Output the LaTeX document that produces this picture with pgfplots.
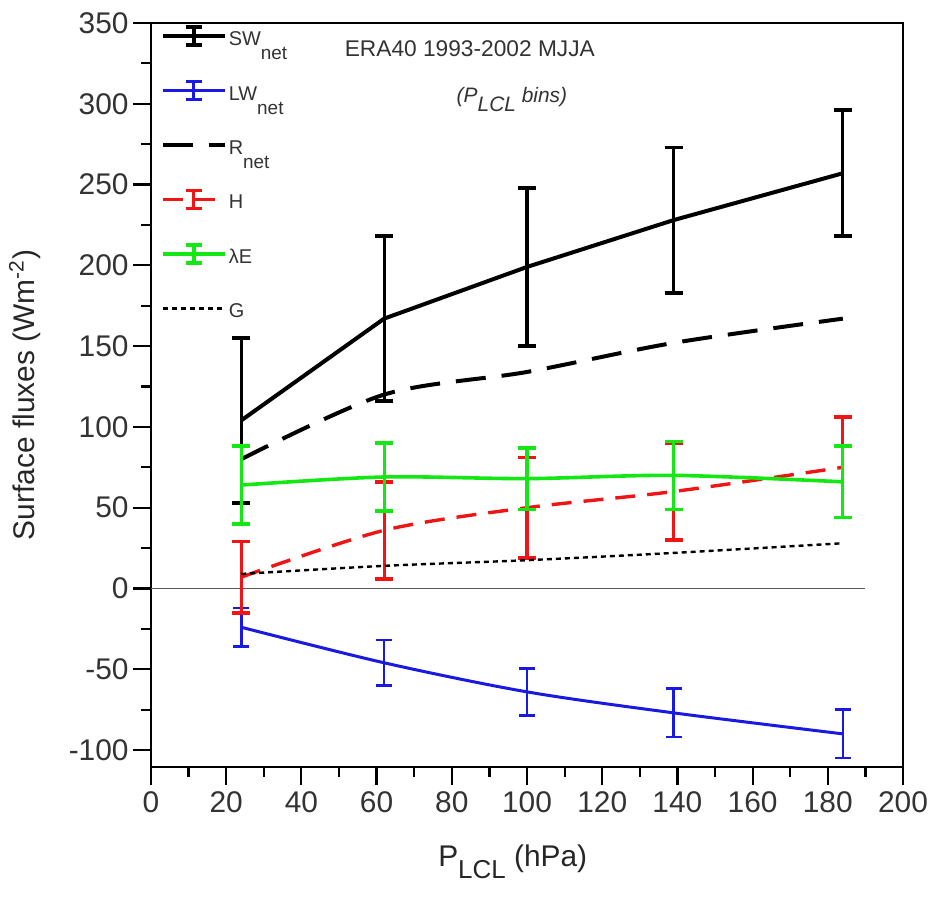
\documentclass[border=0pt]{standalone}
\usepackage{pgfplots}
\pgfplotsset{compat=1.18}
\usepackage{fontspec}
\setmainfont{Liberation Sans}
\definecolor{cblue}{RGB}{25,25,225}
\definecolor{cred}{RGB}{240,20,20}
\definecolor{cgreen}{RGB}{20,232,20}
\newcommand{\lsub}[1]{\raisebox{-7bp}{\fontsize{9.5}{10}\selectfont #1}}
\newcommand{\lent}[1]{\raisebox{-3.7bp}{#1}}
\pgfplotsset{
  errleg/.style={legend image code/.code={
    \draw[##1] (0bp,0bp) -- (31bp,0bp);
    \draw[##1,solid] (15.5bp,-4.5bp) -- (15.5bp,4.5bp) (11.5bp,-4.5bp) -- (19.5bp,-4.5bp) (11.5bp,4.5bp) -- (19.5bp,4.5bp);
  }},
  lineleg/.style={legend image code/.code={
    \draw[##1] (0bp,0bp) -- (31bp,0bp);}},
}
\begin{document}
\begin{tikzpicture}
\useasboundingbox (-75.5bp,-68.5bp) rectangle (389bp,383.5bp);
\begin{axis}[name=ax, at={(0,0)}, anchor=south west,
  scale only axis, width=376bp, height=372bp,
  xmin=0, xmax=200, ymin=-110.5, ymax=350,
  xtick={0,20,...,200}, minor x tick num=1,
  ytick={-100,-50,...,350}, minor y tick num=1,
  yticklabels={-100,-50,0,50,100,150,200,250,300,350},
  xticklabels={0,20,40,60,80,100,120,140,160,180,200},
  tick align=outside, xtick pos=left, ytick pos=left,
  major tick length=9bp, minor tick length=5bp,
  every tick/.style={black, line width=1.1bp},
  axis line style={line width=1.1bp},
  ticklabel style={font=\fontsize{15}{18}\selectfont, text=black!80},
  yticklabel style={inner sep=2bp},
  xticklabel style={inner sep=3bp},
  every axis y label/.style={at={(axis description cs:-0.168,0.5)},rotate=90,anchor=center},
  every axis x label/.style={at={(axis description cs:0.481,-0.128)},anchor=center},
  label style={font=\fontsize{15}{18}\selectfont, text=black!85},
  ylabel={Surface fluxes (Wm\textsuperscript{-2})},
  xlabel={P\raisebox{-6bp}{\fontsize{13}{14}\selectfont LCL} (hPa)},
  legend style={draw=none, fill=none, at={(axis description cs:0.0125,1)}, anchor=north west,
    font=\fontsize{10}{12}\selectfont, text=black!80, row sep=14.2bp, inner sep=0pt, column sep=1bp,
    nodes={inner sep=0pt, text height=7.5bp, text depth=5.5bp}},
  legend cell align=left,
  error bars/y dir=both, error bars/y explicit,
]
\addplot[gray!70!black, line width=0.9bp, forget plot] coordinates {(0,0) (190,0)};
% SW net
\addplot[black, line width=2bp, errleg,
  error bars/error bar style={line width=1.6bp},
  error bars/error mark options={rotate=90, mark size=4.5bp, line width=1.8bp}]
  coordinates {(24,104) +- (0,51) (62,167) +- (0,51) (100,199) +- (0,49) (139,228) +- (0,45) (184,257) +- (0,39)};
\addlegendentry{\lent{SW\lsub{net}}}
% LW net
\addplot[cblue, line width=1.5bp, smooth, errleg,
  error bars/error bar style={line width=1.3bp},
  error bars/error mark options={rotate=90, mark size=4bp, line width=1.3bp}]
  coordinates {(24,-24) +- (0,12) (62,-46) +- (0,14) (100,-64) +- (0,14.5) (139,-77) +- (0,15) (184,-90) +- (0,15)};
\addlegendentry{\lent{LW\lsub{net}}}
% R net
\addplot[black, line width=2bp, dash pattern=on 15bp off 8bp, smooth, lineleg, error bars/y dir=none]
  coordinates {(24,80) (62,120) (100,134) (139,152) (184,167)};
\addlegendentry{\lent{R\lsub{net}}}
% H
\addplot[cred, line width=1.7bp, dash pattern=on 10bp off 6bp, smooth, errleg,
  error bars/error bar style={line width=1.6bp, solid},
  error bars/error mark options={rotate=90, mark size=4.5bp, line width=1.8bp, solid}]
  coordinates {(24,7) +- (0,22) (62,36) +- (0,30) (100,50) +- (0,31) (139,60) +- (0,30) (184,75) +- (0,31)};
\addlegendentry{\lent{H}}
% lambda E
\addplot[cgreen, line width=1.8bp, smooth, errleg,
  error bars/error bar style={line width=1.6bp},
  error bars/error mark options={rotate=90, mark size=4.5bp, line width=1.8bp}]
  coordinates {(24,64) +- (0,24) (62,69) +- (0,21) (100,68) +- (0,19) (139,70) +- (0,21) (184,66) +- (0,22)};
\addlegendentry{\lent{λE}}
% G
\addplot[black, line width=1.2bp, dash pattern=on 2.5bp off 2bp, smooth, lineleg, error bars/y dir=none]
  coordinates {(24,9) (62,14) (100,17.5) (139,22) (184,28)};
\addlegendentry{\lent{G}}
\node[font=\fontsize{11.4}{13}\selectfont, text=black!80] at (axis description cs:0.424,0.966) {ERA40 1993-2002 MJJA};
\node[font=\fontsize{10.5}{12}\selectfont\itshape, text=black!80] at (axis description cs:0.48,0.897) {(P\raisebox{-4.5bp}{LCL} bins)};
\end{axis}
\draw[black, line width=1.3bp] (0bp,372bp) -- (376bp,372bp) -- (376bp,0bp);
\end{tikzpicture}
\end{document}
